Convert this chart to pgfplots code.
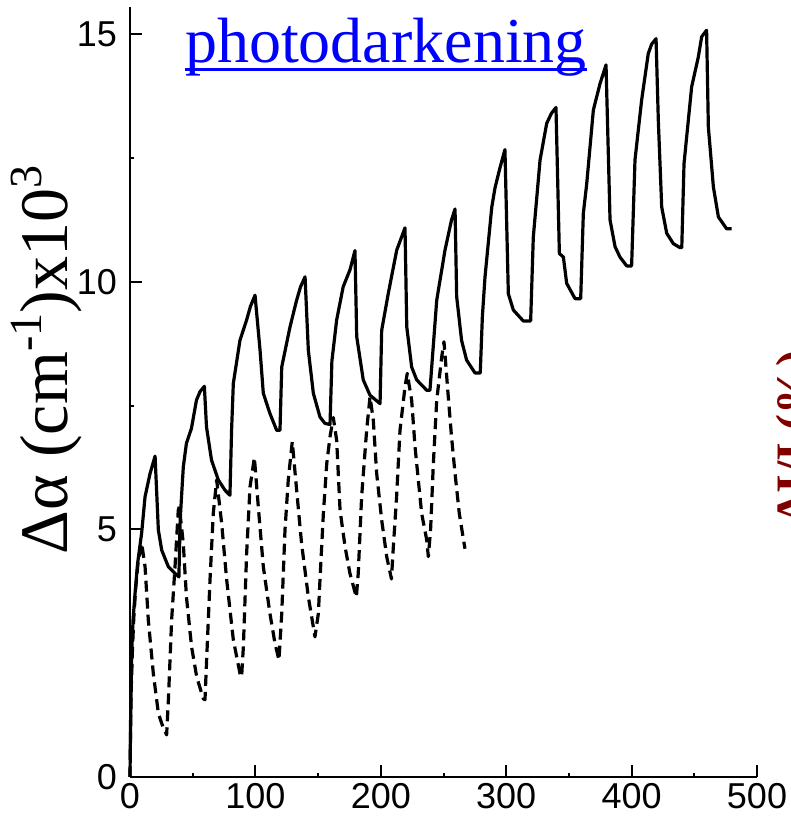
\documentclass[border=0pt]{standalone}
\usepackage{pgfplots}
\pgfplotsset{compat=1.18}
\usepackage{fontspec}
\setmainfont{Liberation Sans}
\newfontfamily\serif{Liberation Serif}
\definecolor{dred}{RGB}{128,0,0}
\begin{document}
\begin{tikzpicture}
\path[use as bounding box] (0,0) rectangle (790pt,821pt);
\begin{axis}[
  at={(130pt,44pt)}, anchor=south west,
  scale only axis, width=627pt, height=770pt,
  xmin=0, xmax=500, ymin=0, ymax=15.55,
  axis lines=left, axis line style={-, line width=2pt},
  xtick={0,100,...,500}, ytick={0,5,10,15},
  minor x tick num=1, minor y tick num=1,
  tick align=inside, major tick length=12pt, minor tick length=4pt,
  every tick/.style={black, line width=2pt},
  /pgf/number format/assume math mode=true,
  ticklabel style={font=\fontsize{36}{40}\selectfont},
  xticklabel style={anchor=north, inner sep=0pt, yshift=-6pt},
  yticklabel style={anchor=east, inner sep=0pt, xshift=-13pt},
  clip=false,
]
\addplot[black, line width=3.2pt, line join=round] coordinates {
(0,0) (0.5,1.2) (1,2.0) (1.5,2.6) (2.5,3.2) (4,3.7) (6,4.3) (9.3,4.93) (12,5.66) (16,6.13) (20,6.48)
(22.6,4.99) (25.3,4.58) (30.5,4.25) (37.2,4.08) (39,4.04)
(40,5.19) (42.5,6.26) (45,6.74) (49,7.04) (53,7.61) (55.8,7.78) (59.3,7.89)
(61,7.07) (65,6.4) (70.4,6.0) (75.8,5.79) (79.7,5.69)
(81,7.0) (82.4,7.95) (87.7,8.82) (93,9.23) (96,9.5) (99.7,9.73)
(103.7,8.62) (106.3,7.75) (111.6,7.34) (117,7.0) (119.6,7.0)
(121,8.28) (127.6,9.09) (132.9,9.63) (136,9.9) (139.6,10.1)
(142.2,8.62) (146.2,7.75) (151.5,7.27) (155.5,7.14) (159.5,7.12)
(161,8.4) (164.8,9.23) (170,9.9) (175.4,10.24) (179.4,10.63)
(180.8,8.89) (186,8.02) (191.4,7.71) (199.4,7.54)
(200.7,9.02) (206,9.77) (212.7,10.64) (219.3,11.09)
(220.7,9.09) (224.6,8.28) (228.6,8.02) (236.6,7.81) (239.2,7.81)
(244.6,9.63) (251.2,10.64) (256.4,11.25) (259.2,11.47)
(260.5,9.70) (264.4,8.82) (268.4,8.42) (275.1,8.16) (279.3,8.16)
(281,9.3) (283.1,10.1) (288.5,11.51) (291.1,11.9) (295,12.3) (299,12.67)
(301.7,9.76) (305.7,9.43) (313.6,9.21) (319.5,9.21)
(321.6,10.9) (327,12.46) (332.3,13.2) (336,13.4) (339.7,13.52)
(342.4,10.57) (345.6,10.5) (348.2,9.97) (354.9,9.66) (359.4,9.66)
(361.5,11.38) (364.2,11.98) (369.5,13.47) (374.8,14.0) (379.6,14.38)
(382.8,11.25) (386.8,10.71) (390.7,10.5) (396.1,10.32) (400,10.32)
(402.7,12.46) (408,13.67) (413.3,14.61) (416,14.8) (419.5,14.91)
(421.3,13.26) (424,11.51) (428,10.98) (433.3,10.77) (438.6,10.69) (440,10.69)
(441.8,12.39) (447.9,13.94) (453.2,14.54) (455.9,14.95) (459.8,15.08)
(461.2,13.13) (465.2,11.92) (469.2,11.31) (475.8,11.07) (479.8,11.07)
};
\addplot[black, line width=3.2pt, dash pattern=on 11pt off 6pt, line join=round] coordinates {
(0,0) (0.5,1.0) (1,1.8) (2,2.6) (3,3.2) (4.5,3.8) (6.5,4.35) (9.3,4.72)
(12,4.25) (14.6,3.17) (18.6,2.09) (22.6,1.29) (25.3,1.08) (29.2,0.85)
(30.6,1.55) (33.2,3.17) (35.9,4.25) (38.5,5.39) (39.3,5.46)
(42.5,4.72) (45,3.64) (49.1,2.63) (53.2,2.02) (58.5,1.58) (59.8,1.56)
(61.1,2.36) (63.8,3.98) (66.4,5.32) (69.1,6.0)
(73.1,5.12) (77.1,3.98) (82.4,2.77) (87.7,2.09) (89,2.02)
(90.4,2.63) (93,4.51) (95.7,5.86) (99.2,6.45)
(102.3,5.46) (106.3,4.25) (111.6,3.3) (115.6,2.7) (118.8,2.36)
(121,3.3) (123.6,4.99) (126.2,6.0) (129.4,6.77)
(132.9,5.79) (136.8,4.72) (142.2,3.64) (147.5,2.83)
(150.2,3.3) (151.5,3.98) (154.2,5.32) (156.9,6.33) (159.5,6.87) (162.1,7.26)
(164.8,6.8) (167.5,5.39) (171.5,4.65) (175.4,4.11) (180.5,3.63)
(182,4.11) (184.7,5.66) (188.7,7.0) (191.4,7.68)
(194,7.21) (196.7,6.13) (200.7,5.19) (204.7,4.45) (208.5,4.0)
(210,4.65) (212.6,5.66) (215.3,7.0) (219.3,7.88) (221.1,8.15)
(224.6,7.61) (227.3,6.67) (229.9,6.0) (232.6,5.32) (236.6,4.79) (237.9,4.45)
(239.7,4.99) (241.9,6.33) (244.6,7.61) (248.6,8.49) (250.4,8.79)
(253.8,7.68) (256.4,6.87) (259.2,6.13) (262.6,5.32) (267.1,4.61)
};
\end{axis}
\node[rotate=90, anchor=base, inner sep=0pt, font=\serif\fontsize{68}{72}\selectfont] at (67pt,461pt)
  {Δα (cm\raisebox{0.38em}{\fontsize{46}{50}\selectfont -1})x10\raisebox{0.38em}{\fontsize{46}{50}\selectfont 3}};
\node[rotate=90, anchor=north, inner sep=0pt, text=dred, font=\serif\bfseries\fontsize{48}{52}\selectfont] at (776pt,384pt)
  {ΔI/I (\%)};
\node[anchor=base west, inner sep=0pt, text=blue, font=\serif\fontsize{64}{70}\selectfont] (t) at (185pt,758pt) {photodarkening};
\draw[blue, line width=3pt] ([yshift=-7pt]t.base west) -- ([yshift=-7pt]t.base east);
\end{tikzpicture}
\end{document}
